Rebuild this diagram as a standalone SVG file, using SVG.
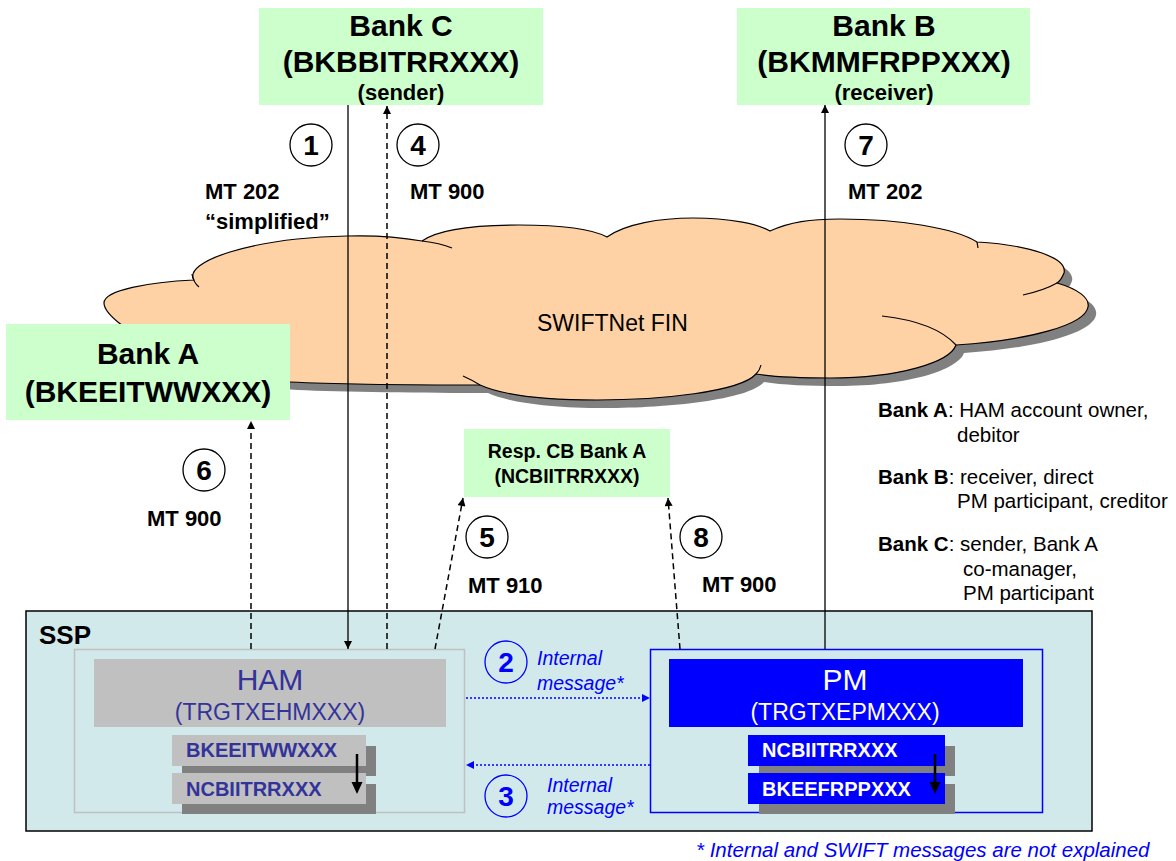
<svg xmlns="http://www.w3.org/2000/svg" width="1176" height="861" viewBox="0 0 1176 861">
<style>
text{font-family:"Liberation Sans",Arial,sans-serif}
.bk{font-weight:bold;fill:#000}
.green{fill:#ccffcc}
.num{font-size:28px;font-weight:bold;text-anchor:middle}
.circ{fill:#fff;stroke:#000;stroke-width:1.3}
.bcirc{fill:none;stroke:#0000ff;stroke-width:1.3}
.mt{font-size:22px;font-weight:bold}
.leg{font-size:20.5px;fill:#000}
.solid{stroke:#000;stroke-width:1.3;fill:none}
.dash{stroke:#000;stroke-width:1.5;fill:none;stroke-dasharray:6,4}
.dot{stroke:#0000ff;stroke-width:1.5;fill:none;stroke-dasharray:2,2}
.im{font-size:19.5px;font-style:italic;fill:#0000ff}
.sub{font-size:20px;font-weight:bold}
</style>
<defs>
<marker id="ah" viewBox="0 0 10 10" refX="10" refY="5" markerUnits="userSpaceOnUse" markerWidth="9" markerHeight="8" orient="auto"><path d="M0,0 L10,5 L0,10 z" fill="#000"/></marker>
<marker id="ahb" viewBox="0 0 10 10" refX="10" refY="5" markerUnits="userSpaceOnUse" markerWidth="10" markerHeight="8" orient="auto"><path d="M0,0 L10,5 L0,10 z" fill="#0000ff"/></marker>
<path id="cloudpath" d="M104,303 C104,290 150,282 194,280 C183,262 250,238 347,236 C380,235 405,238 422,241 C440,228 480,225 519,225 C560,225 592,229 607,237 C625,224 660,218 693,218 C730,218 758,224 770,231 C790,222 810,219 840,219 C900,219 955,228 977,242 C1030,245 1068,258 1064,273 C1062,278 1060,281 1057,283 C1078,289 1090,298 1088,307 C1085,325 1030,340 956,345 C950,362 900,378 830,378 C800,378 775,377 756,374 C740,392 660,400 597,400 C540,400 500,394 480,385 C420,385 330,384 290,382 C200,378 104,325 104,303 Z"/>
</defs>
<rect width="1176" height="861" fill="#fff"/>

<g id="cloud">
<use href="#cloudpath" transform="translate(8,8)" fill="#808080"/>
<use href="#cloudpath" fill="#ffd2a6" stroke="#000" stroke-width="1.2"/>
<path d="M192,274 Q193,282 199,287 M422,241 Q440,243 452,248 M977,242 L978,248 M1023,295 Q1045,290 1057,283 M882,316 Q935,322 956,345 M756,374 Q760,370 761,365 M463,376 Q472,380 480,385" fill="none" stroke="#000" stroke-width="1.2"/>
<text x="537" y="331" font-size="23">SWIFTNet FIN</text>
</g>

<g id="bank-c">
<rect class="green" x="259" y="8" width="284" height="97"/>
<text class="bk" x="401" y="36" font-size="30" text-anchor="middle">Bank C</text>
<text class="bk" x="401" y="72" font-size="30" text-anchor="middle">(BKBBITRRXXX)</text>
<text class="bk" x="401" y="100" font-size="22" text-anchor="middle">(sender)</text>
</g>

<g id="bank-b">
<rect class="green" x="737" y="8" width="293" height="97"/>
<text class="bk" x="884" y="36" font-size="30" text-anchor="middle">Bank B</text>
<text class="bk" x="884" y="72" font-size="30" text-anchor="middle">(BKMMFRPPXXX)</text>
<text class="bk" x="884" y="100" font-size="22" text-anchor="middle">(receiver)</text>
</g>

<g id="bank-a">
<rect class="green" x="6" y="324" width="284" height="96"/>
<text class="bk" x="148" y="364" font-size="30" text-anchor="middle">Bank A</text>
<text class="bk" x="148" y="402" font-size="30" text-anchor="middle">(BKEEITWWXXX)</text>
</g>

<g id="resp-cb">
<rect class="green" x="464" y="429" width="206" height="68"/>
<text class="bk" x="567" y="458" font-size="19.5" text-anchor="middle">Resp. CB Bank A</text>
<text class="bk" x="567" y="483" font-size="19.5" text-anchor="middle">(NCBIITRRXXX)</text>
</g>

<g id="legend">
<text class="leg" x="878" y="417"><tspan font-weight="bold">Bank A</tspan>: HAM account owner,</text>
<text class="leg" x="957" y="442">debitor</text>
<text class="leg" x="878" y="484"><tspan font-weight="bold">Bank B</tspan>: receiver, direct</text>
<text class="leg" x="957" y="508">PM participant, creditor</text>
<text class="leg" x="878" y="551"><tspan font-weight="bold">Bank C</tspan>: sender, Bank A</text>
<text class="leg" x="963" y="576">co-manager,</text>
<text class="leg" x="963" y="600">PM participant</text>
</g>

<g id="ssp">
<rect x="26" y="611" width="1066" height="220" fill="#d2e9eb" stroke="#000" stroke-width="1.5"/>
<text class="bk" x="39" y="644" font-size="26">SSP</text>
</g>

<g id="ham">
<rect x="74.5" y="649.5" width="390" height="163" fill="none" stroke="#c0c0c0" stroke-width="1.5"/>
<rect x="94" y="659" width="352" height="68" fill="#c0c0c0"/>
<text x="270" y="690" font-size="30" fill="#333399" text-anchor="middle">HAM</text>
<text x="270" y="720" font-size="23" fill="#333399" text-anchor="middle">(TRGTXEHMXXX)</text>
<rect x="182" y="746" width="194" height="30" fill="#808080"/>
<rect x="172" y="735" width="194" height="31" fill="#c0c0c0"/>
<rect x="182" y="784" width="194" height="30" fill="#808080"/>
<rect x="172" y="773" width="194" height="31" fill="#c0c0c0"/>
<text class="sub" x="186" y="757" fill="#333399">BKEEITWWXXX</text>
<text class="sub" x="186" y="796" fill="#333399">NCBIITRRXXX</text>
<line x1="357" y1="754" x2="357" y2="784" stroke="#000" stroke-width="2.5"/>
<polygon points="351.5,782 362.5,782 357,794" fill="#000"/>
</g>

<g id="pm">
<rect x="650.5" y="649.5" width="392" height="163" fill="none" stroke="#0000ff" stroke-width="1.5"/>
<rect x="669" y="659" width="354" height="68" fill="#0000ff"/>
<text x="845" y="690" font-size="30" fill="#fff" text-anchor="middle">PM</text>
<text x="845" y="720" font-size="23" fill="#fff" text-anchor="middle">(TRGTXEPMXXX)</text>
<rect x="759" y="746" width="196" height="30" fill="#808080"/>
<rect x="748" y="735" width="197" height="31" fill="#0000ff"/>
<rect x="759" y="784" width="196" height="30" fill="#808080"/>
<rect x="748" y="773" width="197" height="31" fill="#0000ff"/>
<text class="sub" x="762" y="757" fill="#fff">NCBIITRRXXX</text>
<text class="sub" x="762" y="796" fill="#fff">BKEEFRPPXXX</text>
<line x1="935" y1="754" x2="935" y2="784" stroke="#000" stroke-width="2.5"/>
<polygon points="929.5,782 940.5,782 935,794" fill="#000"/>
</g>

<g id="connectors">
<line class="solid" x1="348" y1="105" x2="348" y2="649" marker-end="url(#ah)"/>
<line class="dash" x1="387" y1="649" x2="387" y2="106" marker-end="url(#ah)"/>
<line class="solid" x1="825" y1="649" x2="825" y2="105" marker-end="url(#ah)"/>
<line class="dash" x1="251" y1="649" x2="251" y2="421" marker-end="url(#ah)"/>
<line class="dash" x1="435" y1="649" x2="463" y2="498" marker-end="url(#ah)"/>
<line class="dash" x1="680" y1="649" x2="668" y2="498" marker-end="url(#ah)"/>
<line class="dot" x1="466" y1="698" x2="650" y2="698" marker-end="url(#ahb)"/>
<line class="dot" x1="650" y1="765" x2="466" y2="765" marker-end="url(#ahb)"/>
</g>

<g id="steps">
<circle class="circ" cx="311" cy="145" r="21"/><text class="num" x="311" y="155">1</text>
<circle class="circ" cx="418" cy="145" r="21"/><text class="num" x="418" y="155">4</text>
<circle class="circ" cx="866" cy="145" r="21"/><text class="num" x="866" y="155">7</text>
<circle class="circ" cx="204" cy="470" r="21"/><text class="num" x="204" y="480">6</text>
<circle class="circ" cx="487" cy="537" r="21"/><text class="num" x="487" y="547">5</text>
<circle class="circ" cx="701" cy="537" r="21"/><text class="num" x="701" y="547">8</text>
<circle class="bcirc" cx="506" cy="662" r="21"/><text class="num" x="506" y="672" fill="#0000ff">2</text>
<circle class="bcirc" cx="506" cy="796" r="21"/><text class="num" x="506" y="806" fill="#0000ff">3</text>
<text class="mt" x="205" y="199">MT 202</text>
<text class="mt" x="205" y="229">“simplified”</text>
<text class="mt" x="410" y="199">MT 900</text>
<text class="mt" x="848" y="199">MT 202</text>
<text class="mt" x="147" y="526">MT 900</text>
<text class="mt" x="468" y="593">MT 910</text>
<text class="mt" x="702" y="592">MT 900</text>
<text class="im" x="537" y="665">Internal</text>
<text class="im" x="537" y="690">message*</text>
<text class="im" x="547" y="792">Internal</text>
<text class="im" x="547" y="814">message*</text>
</g>

<text x="696" y="857" font-size="20.5" font-style="italic" fill="#0000ff">* Internal and SWIFT messages are not explained</text>
</svg>
